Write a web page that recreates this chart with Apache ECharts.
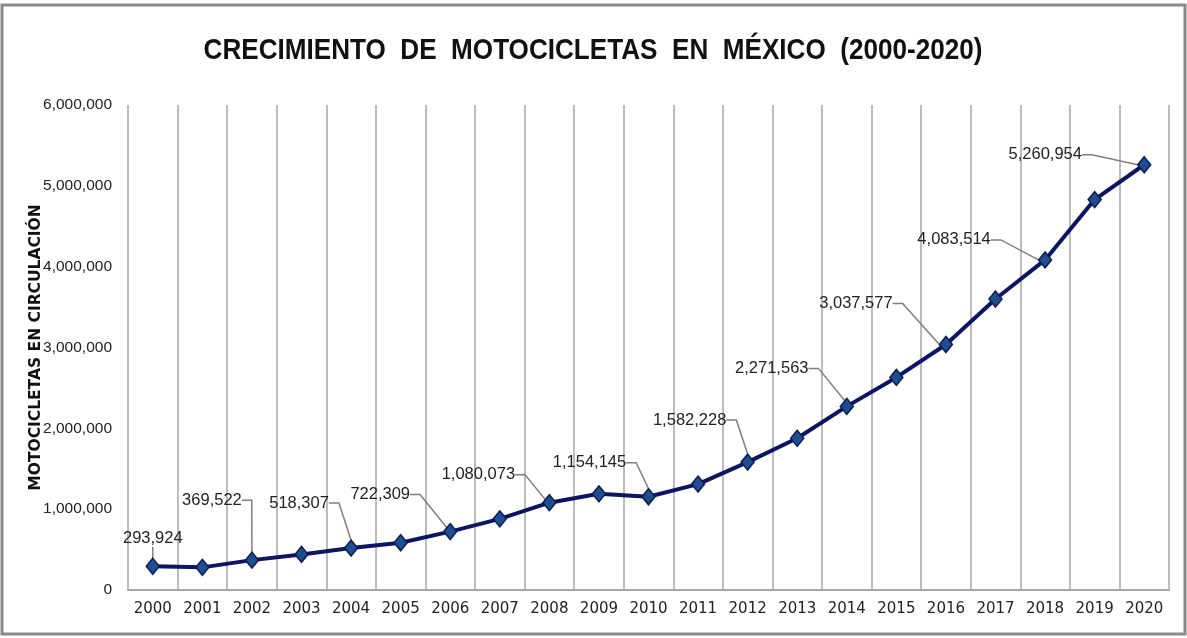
<!DOCTYPE html>
<html>
<head>
<meta charset="utf-8">
<script src="https://cdn.jsdelivr.net/npm/echarts@6/dist/echarts.min.js"></script>
<style>
  html, body { margin: 0; padding: 0; background: #fff; }
  #main { width: 1187px; height: 638px; }
</style>
</head>
<body>
<div id="main"></div>
<script>
var years = ['2000', '2001', '2002', '2003', '2004', '2005', '2006', '2007', '2008', '2009', '2010',
  '2011', '2012', '2013', '2014', '2015', '2016', '2017', '2018', '2019', '2020'];
var motos = [293924, 280000, 369522, 440000, 518307, 585000, 722309, 880000, 1080073, 1190000, 1154145,
  1310000, 1582228, 1877000, 2271563, 2630000, 3037577, 3600000, 4083514, 4830000, 5260954];
var labeledYears = ['2000', '2002', '2004', '2006', '2008', '2010', '2012', '2014', '2016', '2018', '2020'];
var chartTitle = 'CRECIMIENTO  DE  MOTOCICLETAS  EN  MÉXICO  (2000-2020)';

// where each data label sits relative to its point (dx, dy)
var labelShift = {
  0: [0, -28], 2: [-40, -60], 4: [-52, -45], 6: [-70, -37], 8: [-71, -28], 10: [-59, -34],
  12: [-58, -42], 14: [-75, -38], 16: [-90, -41], 18: [-91, -20], 20: [-99, -10]
};

function fmt(v) {
  return String(Math.round(v)).replace(/\B(?=(\d{3})+(?!\d))/g, ',');
}

var sans = '"Liberation Sans", Arial, sans-serif';

var chart = echarts.init(document.getElementById('main'));

var option = {
  animation: false,
  graphic: [{
    type: 'rect',
    shape: { x: 2, y: 5, width: 1183, height: 629 },
    style: { fill: 'none', stroke: '#8a8a8a', lineWidth: 3 },
    silent: true
  }, {
    // title, squeezed a little to look like the condensed original
    type: 'text',
    x: 593,
    y: 51,
    scaleX: 0.87,
    silent: true,
    style: {
      text: chartTitle,
      x: 0,
      y: 0,
      align: 'center',
      verticalAlign: 'middle',
      font: 'bold 30px ' + sans,
      fill: '#111'
    }
  }],
  grid: {
    left: 128,
    right: 18,
    top: 105,
    bottom: 48
  },
  xAxis: {
    type: 'category',
    data: years,
    boundaryGap: true,
    axisLine: { lineStyle: { color: '#a6a6a6', width: 2 } },
    axisTick: { show: false },
    axisLabel: {
      color: '#222',
      fontFamily: '"DejaVu Sans", sans-serif',
      fontSize: 15,
      margin: 12,
      interval: 0
    },
    splitLine: { show: true, interval: 0, lineStyle: { color: '#a6a6a6', width: 1.5 } }
  },
  yAxis: {
    type: 'value',
    min: 0,
    max: 6000000,
    interval: 1000000,
    name: 'MOTOCICLETAS EN CIRCULACIÓN',
    nameLocation: 'middle',
    nameGap: 84,
    nameMoveOverlap: false,
    nameTextStyle: {
      fontFamily: '"DejaVu Sans", sans-serif',
      fontWeight: 'bold',
      fontSize: 15.5,
      color: '#111'
    },
    axisLine: { show: false },
    axisTick: { show: false },
    splitLine: { show: false },
    axisLabel: {
      color: '#222',
      fontFamily: sans,
      fontSize: 15.5,
      margin: 16,
      formatter: fmt
    }
  },
  series: [{
    type: 'line',
    data: years.map(function (y, i) {
      return { value: motos[i], label: { show: labeledYears.indexOf(y) >= 0 } };
    }),
    symbol: 'diamond',
    symbolSize: [13, 16],
    lineStyle: { color: '#0c1464', width: 4 },
    itemStyle: { color: '#1f4e8c', borderColor: '#0c1a5c', borderWidth: 1.5 },
    label: {
      show: false,
      position: 'inside',
      color: '#222',
      fontFamily: sans,
      fontSize: 16.5,
      formatter: function (p) { return fmt(p.value); }
    },
    labelLine: {
      show: true,
      length2: 10,
      lineStyle: { color: '#7f7f7f', width: 1.5 }
    },
    labelLayout: function (p) {
      var s = labelShift[p.dataIndex];
      return s ? { dx: s[0], dy: s[1] } : {};
    },
    z: 3
  }]
};

chart.setOption(option);
</script>
</body>
</html>
